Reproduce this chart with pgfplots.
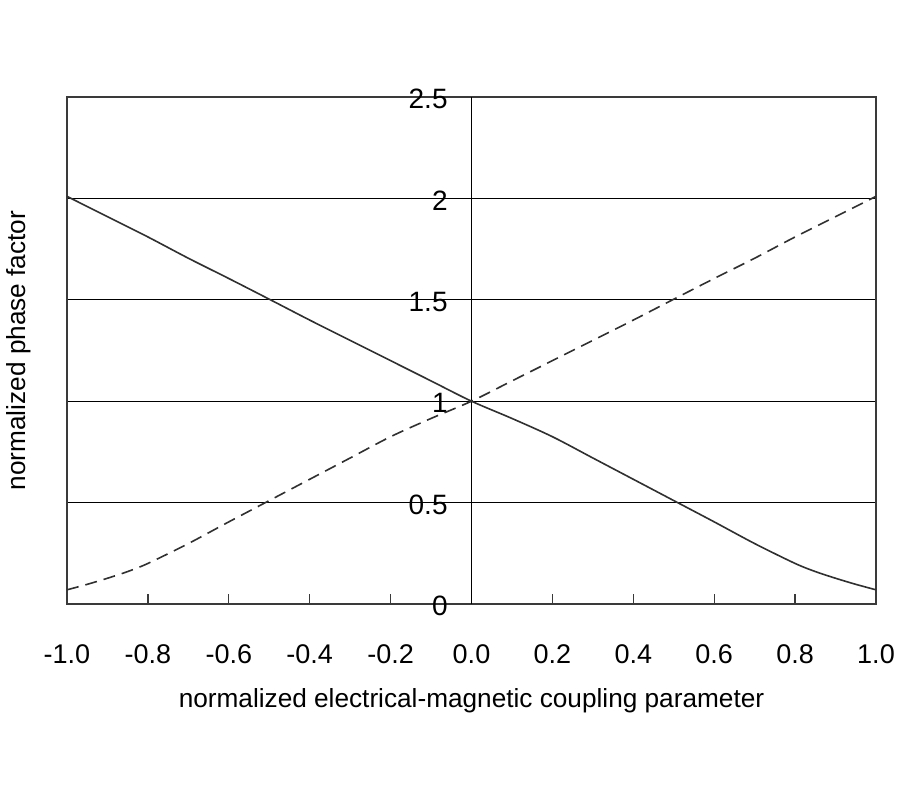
\documentclass[border=0pt]{standalone}
\usepackage{fontspec}
\setmainfont{Liberation Sans}
\usepackage{pgfplots}
\pgfplotsset{compat=1.18}

\definecolor{framegray}{HTML}{3A3A3A}
\definecolor{curvegray}{HTML}{303030}

\begin{document}
\begin{tikzpicture}
% page = 900 x 800 px at 0.5pt per px; axis box corner sits at (0,0)
\useasboundingbox (-33.5pt,-98pt) rectangle (416.5pt,302pt);
\begin{axis}[
    at={(0,0)}, anchor=south west,
    scale only axis,
    width=404.5pt, height=253.5pt,
    xmin=-1, xmax=1, ymin=0, ymax=2.5,
    axis line style={framegray, line width=0.9pt},
    tick align=inside,
    xtick pos=bottom,
    ytick pos=left,
    major tick length=5pt,
    xtick={-1,-0.8,-0.6,-0.4,-0.2,0,0.2,0.4,0.6,0.8,1},
    xticklabels={-1.0,-0.8,-0.6,-0.4,-0.2,0.0,0.2,0.4,0.6,0.8,1.0},
    xtick style={framegray, line width=0.7pt},
    ytick={0,0.5,1,1.5,2,2.5},
    yticklabels={0,0.5,1,1.5,2,2.5},
    ytick style={draw=none},
    ymajorgrids=true,
    major grid style={black, line width=0.65pt},
    extra x ticks={0},
    extra x tick labels={},
    extra x tick style={xmajorgrids=true, major tick length=0pt},
    xticklabel style={font=\fontsize{13.5}{16}\selectfont, anchor=base, yshift=-29.7pt},
    yticklabel style={font=\fontsize{14}{16}\selectfont, anchor=east, inner sep=0pt, xshift=190.5pt, yshift=-1pt},
    xlabel={normalized electrical-magnetic coupling parameter},
    ylabel={normalized phase factor},
    label style={font=\fontsize{13.1}{15}\selectfont},
    xlabel style={at={(axis description cs:0.5,-0.2032)}, anchor=base},
    ylabel style={at={(axis description cs:-0.0519,0.5)}, anchor=base},
    clip=false,
]
% solid curve
\addplot[curvegray, line width=0.8pt, smooth] coordinates {
    (-1.0,2.010) (-0.9,1.910) (-0.8,1.810) (-0.7,1.705) (-0.6,1.605)
    (-0.5,1.503) (-0.4,1.400) (-0.3,1.300) (-0.2,1.200) (-0.1,1.100)
    (0.0,1.000) (0.1,0.915) (0.2,0.825) (0.3,0.720) (0.4,0.615)
    (0.5,0.510) (0.6,0.405) (0.7,0.298) (0.8,0.200) (0.85,0.160)
    (0.9,0.127) (0.95,0.097) (1.0,0.070)
};
% dashed curve
\addplot[curvegray, line width=0.8pt, smooth, dash pattern=on 6pt off 3.5pt] coordinates {
    (-1.0,0.070) (-0.95,0.097) (-0.9,0.127) (-0.85,0.160) (-0.8,0.200)
    (-0.7,0.298) (-0.6,0.405) (-0.5,0.510) (-0.4,0.615) (-0.3,0.720)
    (-0.2,0.825) (-0.1,0.915) (0.0,1.000) (0.1,1.100) (0.2,1.200)
    (0.3,1.300) (0.4,1.400) (0.5,1.503) (0.6,1.605) (0.7,1.705)
    (0.8,1.810) (0.9,1.910) (1.0,2.010)
};
\end{axis}
\end{tikzpicture}
\end{document}
